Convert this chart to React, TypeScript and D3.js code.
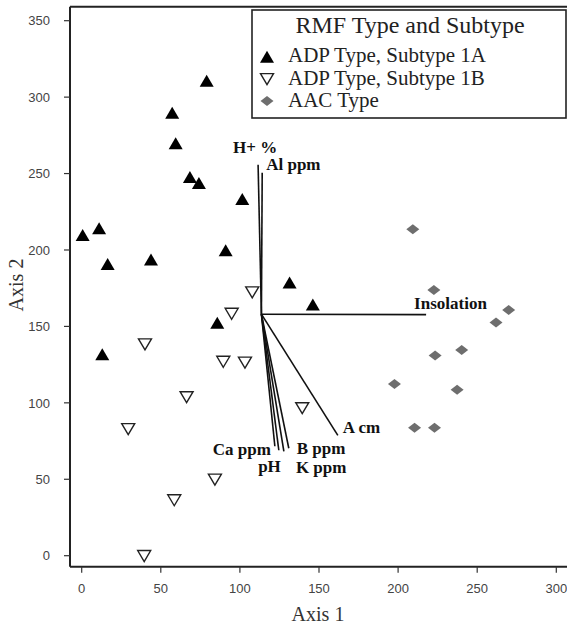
import React, { useEffect, useRef } from "react";
import * as d3 from "d3";

// ordination scores
const subtype1A: [number, number][] = [
  [0.6, 209], [11, 213.5], [16.4, 190], [43.8, 193], [57.2, 289], [59.4, 269],
  [79, 310], [68.4, 247], [74.1, 243], [101.5, 232.6], [91, 199], [13, 131],
  [85.7, 151.6], [131.4, 178], [146.1, 163.5],
];
const subtype1B: [number, number][] = [
  [40, 139], [66.3, 104.4], [29.4, 83.5], [84.2, 50.5], [58.5, 37], [39.5, 0.5],
  [89.5, 127.6], [103.2, 127], [94.8, 159], [107.8, 173], [139.4, 97.2],
];
const aacType: [number, number][] = [
  [209.3, 213.5], [222.6, 173.8], [269.9, 160.7], [261.9, 152.6], [223.4, 131],
  [240.2, 134.6], [197.7, 112.4], [237.3, 108.5], [210.4, 83.7], [223, 83.7],
];

const vectorOrigin: [number, number] = [113.6, 158];
const vectorNames = ["Insolation", "H+ %", "Al ppm", "A cm", "Ca ppm", "pH", "K ppm", "B ppm"];
const vectorEnds: [number, number][] = [
  [217.7, 157.7], [111.5, 255.7], [114.1, 250.5], [161.9, 78.7],
  [122.1, 71.6], [124.6, 69], [127.8, 68.3], [130.9, 70.3],
];

const xTicks = [0, 50, 100, 150, 200, 250, 300];
const yTicks = [0, 50, 100, 150, 200, 250, 300, 350];
const legendTitle = "RMF Type and Subtype";
const legendLabels = ["ADP Type, Subtype 1A", "ADP Type, Subtype 1B", "AAC Type"];

const W = 567;
const H = 629;
const SERIF = "'Liberation Serif', 'Times New Roman', serif";
const SANS = "'Liberation Sans', Arial, sans-serif";
const DIAMOND = "#6e6e6e";

const triUp = (w: number, h: number) => `M0,${-h * 0.6}L${w / 2},${h * 0.4}L${-w / 2},${h * 0.4}Z`;
const triDown = (w: number, h: number) => `M0,${h * 0.6}L${w / 2},${-h * 0.4}L${-w / 2},${-h * 0.4}Z`;
const diamond = (w: number, h: number) => `M0,${-h / 2}L${w / 2},0L0,${h / 2}L${-w / 2},0Z`;

const App = () => {
  const ref = useRef<SVGSVGElement | null>(null);

  useEffect(() => {
    if (!ref.current) return;
    const svg = d3.select(ref.current);
    svg.selectAll("*").remove();

    const x = d3.scaleLinear().domain([0, 300]).range([81.7, 556.3]);
    const y = d3.scaleLinear().domain([0, 350]).range([555.7, 20.7]);

    const left = 70, top = 6.7, bottom = 566.7;

    // frame
    svg.append("line").attr("x1", left).attr("x2", W + 2).attr("y1", top).attr("y2", top)
      .attr("stroke", "#222").attr("stroke-width", 2);
    svg.append("line").attr("x1", left).attr("x2", left).attr("y1", top).attr("y2", bottom)
      .attr("stroke", "#222").attr("stroke-width", 2);
    svg.append("line").attr("x1", left).attr("x2", W + 2).attr("y1", bottom).attr("y2", bottom)
      .attr("stroke", "#222").attr("stroke-width", 2);

    // y ticks
    const yg = svg.append("g");
    yTicks.forEach((t) => {
      yg.append("line").attr("x1", left - 6).attr("x2", left).attr("y1", y(t)).attr("y2", y(t))
        .attr("stroke", "#333").attr("stroke-width", 1.2);
      yg.append("text").attr("x", 50).attr("y", y(t)).attr("dy", "0.36em")
        .attr("text-anchor", "end").attr("font-family", SANS).attr("font-size", 13)
        .attr("fill", "#444").text(t);
    });
    // x ticks
    const xg = svg.append("g");
    xTicks.forEach((t) => {
      xg.append("line").attr("x1", x(t)).attr("x2", x(t)).attr("y1", bottom).attr("y2", bottom + 6)
        .attr("stroke", "#333").attr("stroke-width", 1.2);
      xg.append("text").attr("x", x(t)).attr("y", 593).attr("text-anchor", "middle")
        .attr("font-family", SANS).attr("font-size", 13).attr("fill", "#444").text(t);
    });

    svg.append("text").attr("x", 318).attr("y", 621).attr("text-anchor", "middle")
      .attr("font-family", SERIF).attr("font-size", 20).attr("fill", "#333").text("Axis 1");
    svg.append("text").attr("transform", "translate(23,285) rotate(-90)").attr("text-anchor", "middle")
      .attr("font-family", SERIF).attr("font-size", 20).attr("fill", "#333").text("Axis 2");

    // biplot vectors
    const vg = svg.append("g");
    vectorEnds.forEach((e) => {
      vg.append("line").attr("x1", x(vectorOrigin[0])).attr("y1", y(vectorOrigin[1]))
        .attr("x2", x(e[0])).attr("y2", y(e[1])).attr("stroke", "#111").attr("stroke-width", 1.6);
    });
    const labelPos: { dx: number; dy: number; anchor: string }[] = [
      { dx: -12, dy: -6, anchor: "start" },   // Insolation
      { dx: -25, dy: -12, anchor: "start" },  // H+ %
      { dx: 4, dy: -3, anchor: "start" },     // Al ppm
      { dx: 5, dy: -2, anchor: "start" },     // A cm
      { dx: -4, dy: 9, anchor: "end" },       // Ca ppm
      { dx: 2, dy: 22, anchor: "end" },       // pH
      { dx: 12, dy: 22, anchor: "start" },    // K ppm
      { dx: 8, dy: 6, anchor: "start" },      // B ppm
    ];
    vectorNames.forEach((n, i) => {
      const p = labelPos[i];
      vg.append("text").attr("x", x(vectorEnds[i][0]) + p.dx).attr("y", y(vectorEnds[i][1]) + p.dy)
        .attr("text-anchor", p.anchor).attr("font-family", SERIF).attr("font-weight", "bold")
        .attr("font-size", 17).attr("fill", "#111").text(n);
    });

    // points
    const pg = svg.append("g");
    subtype1A.forEach((d) => {
      pg.append("path").attr("d", triUp(14, 12)).attr("transform", `translate(${x(d[0])},${y(d[1])})`)
        .attr("fill", "#000");
    });
    subtype1B.forEach((d) => {
      pg.append("path").attr("d", triDown(13, 11)).attr("transform", `translate(${x(d[0])},${y(d[1])})`)
        .attr("fill", "#fff").attr("stroke", "#222").attr("stroke-width", 1.4);
    });
    aacType.forEach((d) => {
      pg.append("path").attr("d", diamond(13, 10)).attr("transform", `translate(${x(d[0])},${y(d[1])})`)
        .attr("fill", DIAMOND);
    });

    // legend
    const lg = svg.append("g");
    lg.append("rect").attr("x", 252).attr("y", 10).attr("width", 314).attr("height", 108)
      .attr("fill", "#fff").attr("stroke", "#222").attr("stroke-width", 1.6);
    lg.append("text").attr("x", 410).attr("y", 33).attr("text-anchor", "middle")
      .attr("font-family", SERIF).attr("font-size", 24).attr("fill", "#222").text(legendTitle);
    const markerY = [58, 78, 101];
    const textY = [62, 84.5, 107];
    lg.append("path").attr("d", triUp(14, 12)).attr("transform", `translate(267,${markerY[0]})`).attr("fill", "#000");
    lg.append("path").attr("d", triDown(13, 11)).attr("transform", `translate(267,${markerY[1]})`)
      .attr("fill", "#fff").attr("stroke", "#222").attr("stroke-width", 1.4);
    lg.append("path").attr("d", diamond(13, 10)).attr("transform", `translate(267,${markerY[2]})`).attr("fill", DIAMOND);
    legendLabels.forEach((l, i) => {
      lg.append("text").attr("x", 288).attr("y", textY[i]).attr("font-family", SERIF)
        .attr("font-size", 21).attr("fill", "#222").text(l);
    });
  }, []);

  return (
    <svg ref={ref} width={W} height={H}
      style={{ position: "absolute", left: 0, top: 0, background: "#fff" }} />
  );
};

export default App;
